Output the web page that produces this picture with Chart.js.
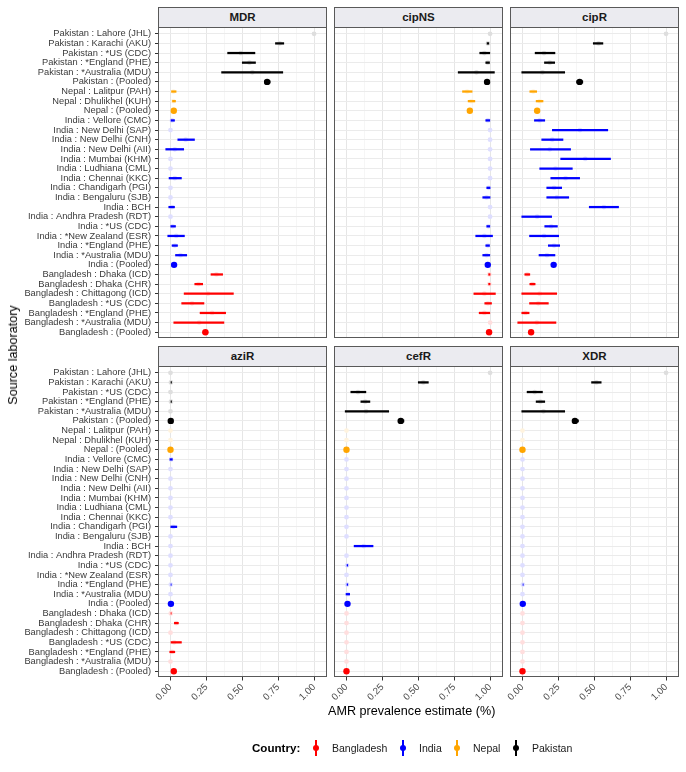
<!DOCTYPE html>
<html><head><meta charset="utf-8">
<script src="https://cdn.jsdelivr.net/npm/chart.js@4.4.1/dist/chart.umd.min.js"></script>
<style>
body{margin:0;background:#fff;font-family:'Liberation Sans',Arial,sans-serif;}
#wrap{position:relative;width:686px;height:772px;overflow:hidden;background:#fff;}
canvas{position:absolute;}
.strip{position:absolute;box-sizing:border-box;border:1px solid #595959;background:#ebebf0;font-weight:bold;font-size:11.5px;color:#1a1a1a;text-align:center;line-height:19px;height:21px;}
.frame{position:absolute;box-sizing:border-box;border:1px solid #595959;pointer-events:none;}
.txt{position:absolute;white-space:nowrap;color:#000;}
.lkey{position:absolute;width:1.6px;height:16px;}
.ldot{position:absolute;width:6px;height:6px;border-radius:50%;}
</style></head>
<body><div id="wrap"></div>
<script>
const categories = [
 'Pakistan : Lahore (JHL)','Pakistan : Karachi (AKU)','Pakistan : *US (CDC)','Pakistan : *England (PHE)','Pakistan : *Australia (MDU)','Pakistan : (Pooled)',
 'Nepal : Lalitpur (PAH)','Nepal : Dhulikhel (KUH)','Nepal : (Pooled)',
 'India : Vellore (CMC)','India : New Delhi (SAP)','India : New Delhi (CNH)','India : New Delhi (AII)','India : Mumbai (KHM)','India : Ludhiana (CML)','India : Chennai (KKC)','India : Chandigarh (PGI)','India : Bengaluru (SJB)','India : BCH','India : Andhra Pradesh (RDT)','India : *US (CDC)','India : *New Zealand (ESR)','India : *England (PHE)','India : *Australia (MDU)','India : (Pooled)',
 'Bangladesh : Dhaka (ICD)','Bangladesh : Dhaka (CHR)','Bangladesh : Chittagong (ICD)','Bangladesh : *US (CDC)','Bangladesh : *England (PHE)','Bangladesh : *Australia (MDU)','Bangladesh : (Pooled)'
];
const countries = ['Bangladesh','India','Nepal','Pakistan'];
const countryColors = ['#FF0000','#0000FF','#FFA500','#000000'];

const mdrEst = [1,0.76,0.49,0.55,0.57,0.673, 0.02,0.02,0.023, 0.01,0,0.106,0.03,0,0,0.03,0,0,0.01,0,0.015,0.04,0.03,0.07,0.025, 0.32,0.195,0.26,0.15,0.29,0.2,0.243];
const mdrLo  = [1,0.731,0.398,0.50,0.356,0.655, 0.007,0.014,0.018, 0,0,0.051,-0.033,0,0,-0.01,0,0,-0.012,0,0.002,-0.019,0.011,0.035,0.02, 0.282,0.169,0.095,0.078,0.206,0.023,0.226];
const mdrHi  = [1,0.789,0.588,0.592,0.782,0.694, 0.039,0.035,0.028, 0.028,0,0.167,0.092,0,0,0.076,0,0,0.028,0,0.035,0.097,0.049,0.113,0.03, 0.363,0.224,0.438,0.233,0.384,0.372,0.26];

const cipNSEst = [1,0.985,0.96,0.985,0.905,0.979, 0.84,0.87,0.859, 0.985,1,1,1,1,1,1,0.99,0.975,1,1,0.988,0.96,0.985,0.975,0.984, 0.995,0.995,0.96,0.985,0.96,1,0.993];
const cipNSLo  = [1,0.979,0.928,0.970,0.778,0.972, 0.808,0.847,0.85, 0.970,1,1,1,1,1,1,0.977,0.949,1,1,0.977,0.9,0.970,0.949,0.98, 0.99,0.99,0.887,0.963,0.924,1,0.989];
const cipNSHi  = [1,0.991,0.998,0.996,1.03,0.986, 0.875,0.894,0.868, 0.998,1,1,1,1,1,1,1,1,1,1,0.998,1.017,0.996,0.998,0.988, 1,1,1.037,1.01,0.998,1,0.997];

const cipREst = [1,0.53,0.15,0.19,0.139,0.398, 0.075,0.12,0.102, 0.12,0.40,0.207,0.19,0.437,0.23,0.30,0.22,0.24,0.567,0.102,0.2,0.15,0.22,0.17,0.217, 0.033,0.07,0.12,0.11,0.02,0.1,0.06];
const cipRLo  = [1,0.493,0.088,0.153,-0.005,0.377, 0.051,0.095,0.09, 0.083,0.208,0.134,0.055,0.266,0.12,0.197,0.169,0.169,0.465,-0.005,0.155,0.049,0.18,0.115,0.205, 0.016,0.051,-0.005,0.049,-0.005,-0.033,0.05];
const cipRHi  = [1,0.56,0.226,0.224,0.294,0.42, 0.099,0.143,0.114, 0.155,0.594,0.282,0.335,0.613,0.347,0.398,0.273,0.322,0.669,0.203,0.243,0.252,0.259,0.226,0.229, 0.051,0.088,0.238,0.18,0.046,0.233,0.07];

const aziREst = [0,0.003,0,0.003,0,0.002, 0,0,0, 0.004,0,0,0,0,0,0,0.02,0,0,0,0,0,0.002,0,0.003, 0.002,0.04,0,0.025,0.01,0,0.023];
const aziRLo  = [0,0,0,0,0,0, 0,0,0, -0.004,0,0,0,0,0,0,0.002,0,0,0,0,0,0,0,0.001, 0,0.027,0,0,-0.005,0,0.015];
const aziRHi  = [0,0.007,0,0.007,0,0.004, 0,0,0, 0.013,0,0,0,0,0,0,0.044,0,0,0,0,0,0.005,0,0.005, 0.005,0.055,0,0.076,0.03,0,0.03];

const cefREst = [1,0.535,0.08,0.13,0.136,0.378, 0,0,0, 0,0,0,0,0,0,0,0,0,0.12,0,0.004,0,0.004,0.008,0.007, 0,0,0,0,0,0,0];
const cefRLo  = [1,0.5,0.03,0.1,-0.009,0.36, 0,0,0, 0,0,0,0,0,0,0,0,0,0.053,0,0,0,0,-0.003,0.004, 0,0,0,0,0,0,0];
const cefRHi  = [1,0.57,0.135,0.163,0.294,0.40, 0,0,0, 0,0,0,0,0,0,0,0,0,0.185,0,0.009,0,0.009,0.022,0.01, 0,0,0,0,0,0,0];

const xdrEst = [1,0.515,0.085,0.125,0.146,0.365, 0,0,0, 0,0,0,0,0,0,0,0,0,0,0,0,0,0.002,0,0.002, 0,0,0,0,0,0,0];
const xdrLo  = [1,0.481,0.032,0.095,-0.005,0.35, 0,0,0, 0,0,0,0,0,0,0,0,0,0,0,0,0,0,0,0, 0,0,0,0,0,0,0];
const xdrHi  = [1,0.548,0.139,0.155,0.294,0.39, 0,0,0, 0,0,0,0,0,0,0,0,0,0,0,0,0,0.005,0,0.003, 0,0,0,0,0,0,0];

const facetNames = ['MDR','cipNS','cipR','aziR','cefR','XDR'];
const xTickValues = [0,0.25,0.5,0.75,1];
const xTickLabels = ['0.00','0.25','0.50','0.75','1.00'];

const facets = [
  [mdrEst,mdrLo,mdrHi],[cipNSEst,cipNSLo,cipNSHi],[cipREst,cipRLo,cipRHi],
  [aziREst,aziRLo,aziRHi],[cefREst,cefRLo,cefRHi],[xdrEst,xdrLo,xdrHi]
];

Chart.defaults.font.family = "'Liberation Sans', Arial, sans-serif";
const wrap = document.getElementById('wrap');
const PL = [158, 334, 510], PW = 169, PT = [28, 367], PH = 310, STRIP_H = 21;

function tint(hex, a) {
  const n = parseInt(hex.slice(1), 16);
  const r = (n >> 16) & 255, g = (n >> 8) & 255, b = n & 255;
  const m = v => Math.round(v * a + 255 * (1 - a));
  return `rgb(${m(r)},${m(g)},${m(b)})`;
}

const xGrid = [];
xTickValues.forEach((v, i) => {
  xGrid.push({value: v, mj: true, lab: xTickLabels[i]});
  if (i < xTickValues.length - 1) xGrid.push({value: (v + xTickValues[i + 1]) / 2, mj: false, lab: ''});
});

function add(el) { wrap.appendChild(el); return el; }

facets.forEach((f, k) => {
  const [est, lo, hi] = f;
  const c = k % 3, r = Math.floor(k / 3);
  const yW = c === 0 ? 158 : 16;
  const xH = r === 1 ? 36 : 0;

  const cv = document.createElement('canvas');
  cv.width = yW + PW; cv.height = PH + xH;
  cv.style.left = (PL[c] - yW) + 'px'; cv.style.top = PT[r] + 'px';
  cv.style.width = cv.width + 'px'; cv.style.height = cv.height + 'px';
  add(cv);

  const s = add(document.createElement('div'));
  s.className = 'strip'; s.textContent = facetNames[k];
  s.style.left = PL[c] + 'px'; s.style.top = (PT[r] - STRIP_H) + 'px'; s.style.width = PW + 'px';
  const fr = add(document.createElement('div'));
  fr.className = 'frame';
  fr.style.left = PL[c] + 'px'; fr.style.top = (PT[r] - 1) + 'px'; fr.style.width = PW + 'px'; fr.style.height = (PH + 1) + 'px';

  const siteBars = [], siteBarCol = [], poolBars = [], poolBarCol = [];
  const sitePts = [], sitePtCol = [], poolPts = [], poolPtCol = [];
  categories.forEach((cat, i) => {
    const col = countryColors[countries.indexOf(cat.split(' : ')[0])];
    const pooled = cat.indexOf('(Pooled)') >= 0;
    if (hi[i] > lo[i]) {
      (pooled ? poolBars : siteBars).push({x: [lo[i], hi[i]], y: i});
      (pooled ? poolBarCol : siteBarCol).push(col);
    }
    if (pooled) { poolPts.push({x: est[i], y: i}); poolPtCol.push(col); }
    else { sitePts.push({x: est[i], y: i}); sitePtCol.push(tint(col, 0.13)); }
  });

  new Chart(cv, {
    type: 'bar',
    data: {
      datasets: [
        {type: 'scatter', data: poolPts, pointRadius: 3.2, pointHoverRadius: 3.2, pointBackgroundColor: poolPtCol, pointBorderWidth: 0},
        {type: 'bar', data: poolBars, backgroundColor: poolBarCol, barThickness: 2.2, grouped: false, borderWidth: 0},
        {type: 'bar', data: siteBars, backgroundColor: siteBarCol, barThickness: 1.6, grouped: false, borderWidth: 0},
        {type: 'scatter', data: sitePts, pointRadius: 2.4, pointHoverRadius: 2.4, pointBackgroundColor: sitePtCol, pointBorderWidth: 0}
      ]
    },
    options: {
      indexAxis: 'y',
      responsive: false, animation: false, devicePixelRatio: 1,
      layout: {padding: 0, autoPadding: false},
      plugins: {legend: {display: false}, tooltip: {enabled: false}},
      events: [],
      scales: {
        x: {
          type: 'linear', min: -0.087, max: 1.09, bounds: 'data', offset: false,
          afterBuildTicks: ax => { ax.ticks = xGrid.map(t => ({value: t.value, mj: t.mj, lab: t.lab})); },
          afterFit: ax => { ax.height = xH; ax.paddingLeft = 0; ax.paddingRight = 0; },
          border: {display: false},
          grid: {
            offset: false,
            color: ctx => (ctx.tick && ctx.tick.mj) ? '#e6e6e6' : '#f2f2f2',
            lineWidth: ctx => (ctx.tick && ctx.tick.mj) ? 1 : 0.7,
            drawTicks: r === 1, tickLength: 3.5,
            tickColor: ctx => (ctx.tick && ctx.tick.mj) ? '#333333' : 'rgba(0,0,0,0)',
            tickWidth: 1
          },
          ticks: {
            display: r === 1, autoSkip: false, minRotation: 45, maxRotation: 45, padding: 1,
            font: {size: 9.6}, color: '#4d4d4d',
            callback: (v, i, ts) => ts[i].lab
          }
        },
        y: {
          type: 'linear', min: -0.6, max: 31.6, reverse: true, bounds: 'data', offset: false,
          afterBuildTicks: ax => { ax.ticks = categories.map((_, i) => ({value: i})); },
          afterFit: ax => { ax.width = yW; ax.paddingTop = 0; ax.paddingBottom = 0; },
          border: {display: false},
          grid: {offset: false, color: '#ebebeb', lineWidth: 1, drawTicks: c === 0, tickLength: 3, tickColor: '#333333', tickWidth: 1},
          ticks: {
            display: c === 0, autoSkip: false, padding: 4,
            font: {size: 9.3}, color: '#3a3a3a',
            callback: (v) => categories[v]
          }
        }
      }
    }
  });
});

const xt = add(document.createElement('div'));
xt.className = 'txt'; xt.textContent = 'AMR prevalence estimate (%)';
xt.style.fontSize = '12.6px'; xt.style.left = '411.7px'; xt.style.top = '704px'; xt.style.transform = 'translateX(-50%)';
const yt = add(document.createElement('div'));
yt.className = 'txt'; yt.textContent = 'Source laboratory';
yt.style.fontSize = '12.6px'; yt.style.left = '12.5px'; yt.style.top = '355px';
yt.style.transform = 'translate(-50%,-50%) rotate(-90deg)';

const lg = add(document.createElement('div'));
lg.className = 'txt'; lg.textContent = 'Country:';
lg.style.fontSize = '11.6px'; lg.style.fontWeight = 'bold'; lg.style.left = '252px'; lg.style.top = '741px';
const keyX = [316, 403, 457, 516], textX = [332, 419, 473, 532];
countries.forEach((name, i) => {
  const col = countryColors[i];
  const ln = add(document.createElement('div'));
  ln.className = 'lkey'; ln.style.background = col; ln.style.left = (keyX[i] - 0.8) + 'px'; ln.style.top = '740px';
  const dt = add(document.createElement('div'));
  dt.className = 'ldot'; dt.style.background = col; dt.style.left = (keyX[i] - 3) + 'px'; dt.style.top = '745px';
  const t = add(document.createElement('div'));
  t.className = 'txt'; t.textContent = name; t.style.fontSize = '10.5px'; t.style.color = '#1a1a1a';
  t.style.left = textX[i] + 'px'; t.style.top = '742px';
});
</script></body></html>
